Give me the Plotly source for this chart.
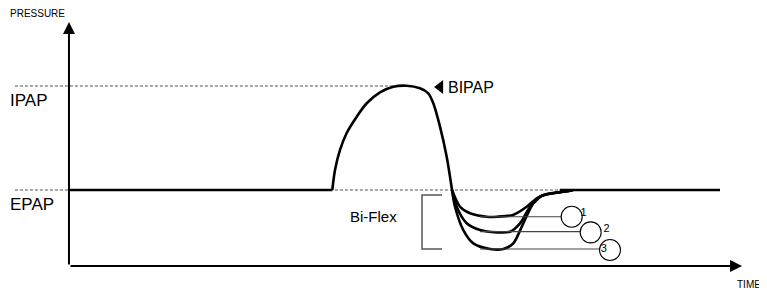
import plotly.graph_objects as go

# ---- data (time units, pressure units) ----
EPAP = 5.0
IPAP = 15.0

base_t = [0, 38.95]
base_p = [5, 5]

bipap_t = [38.95, 39.35, 40.09, 41.08, 42.56, 44.04, 46.01, 47.97, 49.96, 51.92, 53.15, 53.89, 54.88, 55.87, 56.66]
bipap_p = [5, 6.92, 8.85, 10.48, 12.05, 13.34, 14.39, 14.93, 15.03, 14.78, 14.30, 13.34, 11.09, 8.20, 5]

flex1_t = [56.66, 57.84, 59.32, 61.79, 63.27, 65.68, 67.71, 69.19, 70.67, 72.63, 74.56]
flex1_p = [5, 3.39, 2.76, 2.43, 2.43, 2.60, 3.39, 4.20, 4.62, 4.80, 4.95]

flex2_t = [56.66, 57.35, 58.83, 60.80, 63.27, 65.24, 66.72, 68.20, 69.67, 71.60, 74.11]
flex2_p = [5, 3.39, 1.80, 1.15, 0.93, 0.99, 1.80, 3.39, 4.36, 4.68, 4.93]

flex3_t = [56.66, 57.10, 58.33, 59.81, 62.28, 64.25, 65.72, 67.20, 68.68, 70.16, 72.14, 74.11]
flex3_p = [5, 3.39, 1.15, -0.13, -0.67, -0.67, -0.13, 1.80, 3.72, 4.52, 4.74, 4.93]

tail_t = [72.6, 96.3]
tail_p = [5, 5]

lead_start = [60.8, 60.8, 60.8]
lead_end = [72.9, 75.7, 78.55]
lead_p = [2.43, 0.99, -0.67]

circle_t = [74.36, 77.17, 80.03]
circle_p = [2.43, 0.93, -0.77]
circle_labels = ["1", "2", "3"]
label_t = [76.1, 79.5, 79.1]
label_p = [2.8, 1.25, -0.72]

bracket_t = [55.18, 52.22, 52.22, 55.18]
bracket_p = [4.52, 4.52, -0.67, -0.67]

ref_left = -8.0
ipap_ref_end = 48.0
epap_ref_end = 96.3

x_axis_end = 99.56
y_axis_top = 21.15
axis_level = -2.31

fig = go.Figure()
dot = dict(color="#a8a8a8", width=2, dash="3px,2px")
fig.add_trace(go.Scatter(x=[ref_left, ipap_ref_end], y=[IPAP, IPAP], mode="lines", line=dot))
fig.add_trace(go.Scatter(x=[ref_left, epap_ref_end], y=[EPAP, EPAP], mode="lines", line=dot))

blk = dict(color="black", width=2.6)
fig.add_trace(go.Scatter(x=base_t, y=base_p, mode="lines", line=blk))
fig.add_trace(go.Scatter(x=tail_t, y=tail_p, mode="lines", line=blk))
for tt, pp in [(bipap_t, bipap_p), (flex1_t, flex1_p), (flex2_t, flex2_p), (flex3_t, flex3_p)]:
    fig.add_trace(go.Scatter(x=tt, y=pp, mode="lines", line=dict(color="black", width=2.6, shape="spline", smoothing=0.8)))

for a, b, p in zip(lead_start, lead_end, lead_p):
    fig.add_trace(go.Scatter(x=[a, b], y=[p, p], mode="lines", line=dict(color="#444", width=1.2)))

fig.add_trace(go.Scatter(x=bracket_t, y=bracket_p, mode="lines", line=dict(color="#555", width=1.5)))

fig.add_trace(go.Scatter(x=circle_t, y=circle_p, mode="markers",
                         marker=dict(symbol="circle", size=21, color="white", line=dict(color="black", width=1.1))))
fig.add_trace(go.Scatter(x=label_t, y=label_p, mode="text", text=circle_labels,
                         textfont=dict(size=11, color="black", family="Liberation Sans, Arial")))

# BIPAP pointer head
fig.add_trace(go.Scatter(x=[54.9], y=[14.9], mode="markers",
                         marker=dict(symbol="triangle-left", size=12, color="black")))

# axes as arrows
fig.add_annotation(x=0, y=y_axis_top, ax=0, ay=axis_level, xref="x", yref="y", axref="x", ayref="y",
                   showarrow=True, arrowhead=2, arrowsize=1.2, arrowwidth=2, arrowcolor="black", text="")
fig.add_annotation(x=x_axis_end, y=axis_level, ax=0, ay=axis_level, xref="x", yref="y", axref="x", ayref="y",
                   showarrow=True, arrowhead=2, arrowsize=1.2, arrowwidth=2, arrowcolor="black", text="")

font = "Liberation Sans, Arial, sans-serif"
def txt(x, y, s, size, anchor="left"):
    fig.add_annotation(x=x, y=y, text=s, showarrow=False, xanchor=anchor, yanchor="middle",
                       font=dict(family=font, size=size, color="black"))

txt(-9.0, 22.0, "PRESSURE", 10)
txt(-9.0, 13.65, "IPAP", 17)
txt(-9.0, 3.56, "EPAP", 17)
txt(55.8, 14.9, "BIPAP", 16)
txt(44.97, 2.5, "Bi-Flex", 15, "center")
txt(100.6, -4.04, "TIME", 10, "center")

# page has an 8px body margin: figure covers page pixels 8..767 x 8..296
fig.update_layout(width=759, height=288, margin=dict(l=0, r=0, t=0, b=0),
                  plot_bgcolor="white", paper_bgcolor="white", showlegend=False,
                  xaxis=dict(range=[-9.02, 103.25], visible=False, fixedrange=True),
                  yaxis=dict(range=[-5.19, 22.5], visible=False, fixedrange=True))
fig.write_html("out.html")
